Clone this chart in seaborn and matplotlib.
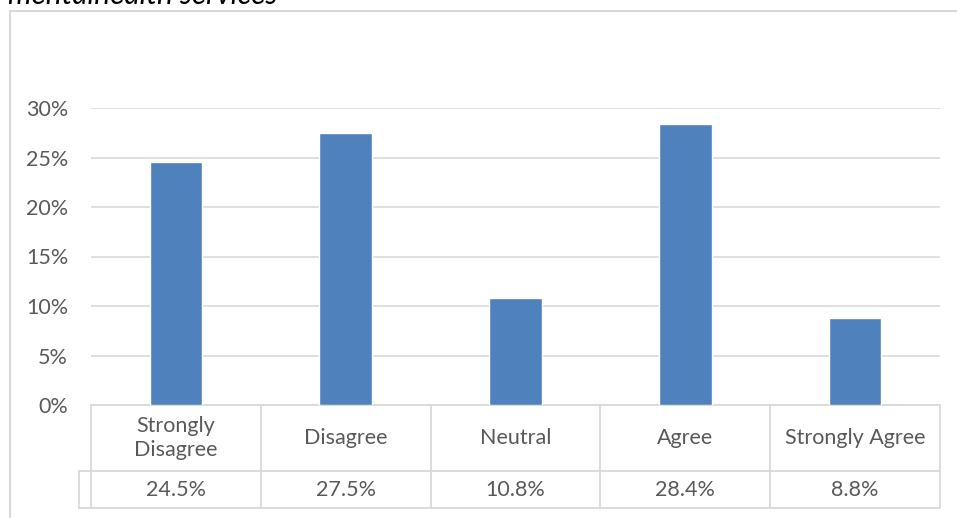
import matplotlib
matplotlib.use("Agg")
import matplotlib.pyplot as plt
from matplotlib.lines import Line2D
import matplotlib.transforms as mtransforms
import seaborn as sns
import pandas as pd

categories = ["Strongly\nDisagree", "Disagree", "Neutral", "Agree", "Strongly Agree"]
values = [24.5, 27.5, 10.8, 28.4, 8.8]
value_labels = ["24.5%", "27.5%", "10.8%", "28.4%", "8.8%"]
y_ticks = [0, 5, 10, 15, 20, 25, 30]
title = "mentalhealth services"

sns.set_theme(style="white")
plt.rcParams["font.family"] = ["Lato", "DejaVu Sans"]

TEXT = "#595959"
GRID = "#d9d9d9"
BAR = "#4f81bd"
FS = 15.5

W, H = 957, 518
fig = plt.figure(figsize=(W / 100, H / 100), dpi=100)
fig.patch.set_facecolor("white")

# plot area in pixel terms
left_px, right_px, top_px, zero_px = 91, 940, 108, 405
ax = fig.add_axes([left_px / W, 1 - zero_px / H,
                   (right_px - left_px) / W, (zero_px - top_px) / H])

df = pd.DataFrame({"category": categories, "value": values})
sns.barplot(data=df, x="category", y="value", color=BAR, width=0.31,
            saturation=1, ax=ax, zorder=3)

ax.set_xlim(-0.5, len(categories) - 0.5)
ax.set_ylim(0, 30)
ax.set_yticks(y_ticks)
ax.set_yticklabels([f"{t}%" for t in y_ticks], color=TEXT, fontsize=FS)
ax.tick_params(axis="y", length=0, pad=16.5)
ax.set_xticks([])
ax.set_xlabel("")
ax.set_ylabel("")
for s in ax.spines.values():
    s.set_visible(False)
ax.yaxis.grid(True, color=GRID, linewidth=1.2, zorder=0)
ax.set_axisbelow(True)

# data table under the bars
ax_h = zero_px - top_px
head_bot = -(471 - zero_px) / ax_h
row_bot = -(508 - zero_px) / ax_h
trans = mtransforms.blended_transform_factory(ax.transData, ax.transAxes)
n = len(categories)
lkw = dict(color=GRID, linewidth=1.3, transform=trans, clip_on=False)
# horizontal rules
ax.add_line(Line2D([-0.5, n - 0.5], [0, 0], **lkw))
key_x = -0.5 - 12 / (right_px - left_px) * n
ax.add_line(Line2D([key_x, n - 0.5], [head_bot, head_bot], **lkw))
ax.add_line(Line2D([key_x, n - 0.5], [row_bot, row_bot], **lkw))
# vertical rules
for i in range(n + 1):
    ax.add_line(Line2D([i - 0.5, i - 0.5], [0, row_bot], **lkw))
ax.add_line(Line2D([key_x, key_x], [head_bot, row_bot], **lkw))

for i, (c, v) in enumerate(zip(categories, value_labels)):
    ax.text(i, head_bot / 2, c, transform=trans, ha="center", va="center",
            color=TEXT, fontsize=FS, linespacing=1.2)
    ax.text(i, (head_bot + row_bot) / 2, v, transform=trans, ha="center",
            va="center", color=TEXT, fontsize=FS)

# chart frame and the title above it
fkw = dict(color=GRID, linewidth=1.5, transform=fig.transFigure)
fig.add_artist(Line2D([10 / W, 10 / W], [0, 1 - 11 / H], **fkw))
fig.add_artist(Line2D([10 / W, 1], [1 - 11 / H, 1 - 11 / H], **fkw))
fig.text(8 / W, 1 - 4 / H, title, ha="left", va="baseline", style="italic",
         fontsize=21.5, color="black")

fig.savefig("out.png", dpi=100, facecolor="white")
